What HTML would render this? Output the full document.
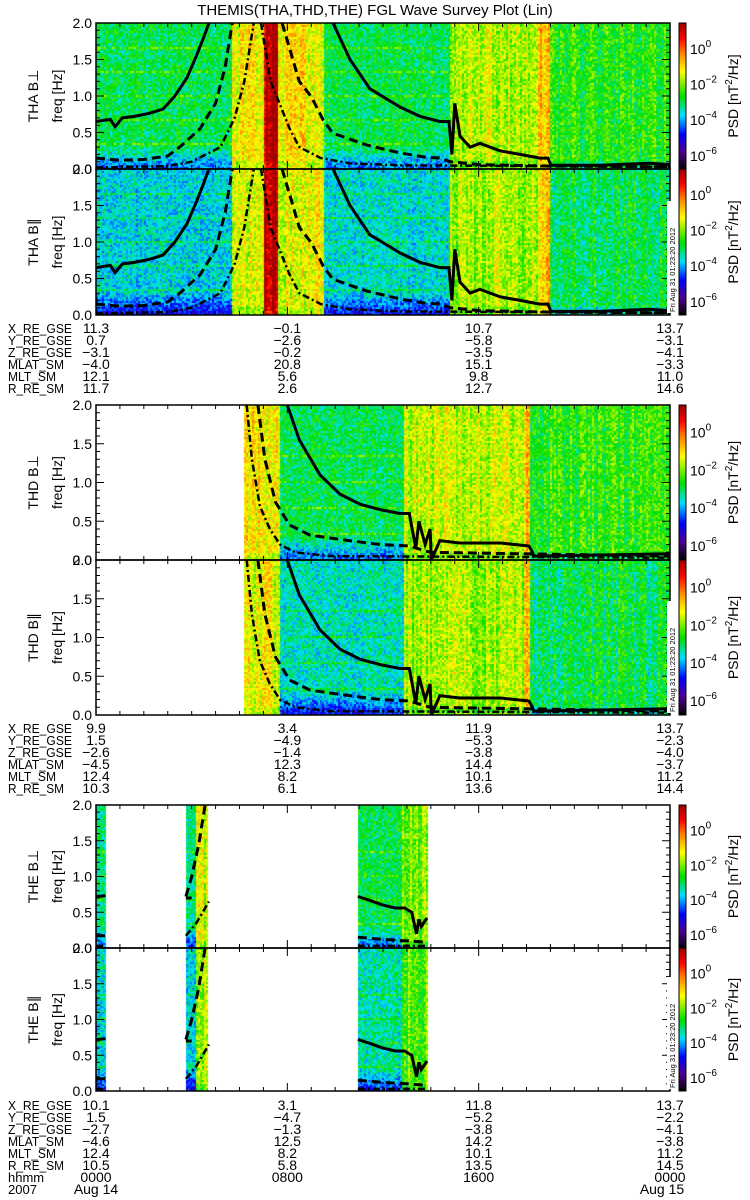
<!DOCTYPE html>
<html><head><meta charset="utf-8">
<style>
html,body{margin:0;padding:0;background:#fff;}
#wrap{position:relative;width:750px;height:1200px;overflow:hidden;font-family:"Liberation Sans",sans-serif;}
canvas,svg{position:absolute;left:0;top:0;}
</style></head>
<body>
<div id="wrap">
<canvas id="cv" width="750" height="1200"></canvas>
<svg id="sv" width="750" height="1200" xmlns="http://www.w3.org/2000/svg">
<text x="375" y="15" text-anchor="middle" font-size="15" font-family="Liberation Sans, sans-serif">THEMIS(THA,THD,THE) FGL Wave Survey Plot (Lin)</text>
</svg>
</div>
<script>
// ---- data: spectrogram segments (hours, log10 PSD) ----
const thaSegStart=[0,5.69,7.02,7.61,9.53,14.8,18.5,19.0];
const thaSegEnd=[5.69,7.02,7.61,9.53,14.8,18.5,19.0,24];
const thaPerpLevel=[-3.0,-1.2,1.3,-1.2,-3.0,-1.7,-0.8,-2.6];
const thaParLevel=[-3.7,-1.4,1.3,-1.4,-3.6,-1.8,-0.9,-3.0];
const thaQuiet=[1,0,0,0,1,0,0,0];
const thdSegStart=[6.15,7.7,12.9,17.9,18.15];
const thdSegEnd=[7.7,12.9,17.9,18.15,24];
const thdPerpLevel=[-1.2,-3.0,-1.6,-0.7,-2.5];
const thdParLevel=[-1.4,-3.5,-1.8,-0.8,-3.0];
const thdQuiet=[0,1,0,0,0];
const theSegStart=[0,3.76,4.2,10.95,12.8];
const theSegEnd=[0.4,4.2,4.72,12.8,13.84];
const thePerpLevel=[-3.2,-3.3,-1.5,-3.0,-2.0];
const theParLevel=[-3.6,-3.7,-1.7,-3.4,-2.2];
const theQuiet=[1,1,0,1,0];
// ---- data: characteristic frequency lines (hours, Hz; null = gap) ----
const thaSolidH=[0,0.6,0.8,1.1,1.6,2.2,2.8,3.3,3.8,4.2,4.5,4.72,null,9.91,10.62,11.45,12.71,13.55,14.38,14.76,14.88,15.0,15.22,15.64,16.05,16.89,17.73,18.56,18.9,19.02,21.07,23.16,24];
const thaSolidF=[0.65,0.68,0.58,0.7,0.72,0.76,0.82,1.0,1.25,1.55,1.8,2.0,null,2.0,1.5,1.1,0.85,0.72,0.65,0.65,0.2,0.9,0.45,0.3,0.35,0.25,0.2,0.15,0.15,0.05,0.05,0.08,0.06];
const thaDashH=[0,1,2,3,3.5,4.35,5.0,5.4,5.7,null,7.78,8.5,9.0,9.5,9.9,11.3,12.7,13.8,14.4,14.8,16,19,24];
const thaDashF=[0.15,0.12,0.13,0.18,0.3,0.55,0.9,1.4,2.0,null,2.0,1.2,0.99,0.67,0.49,0.33,0.22,0.16,0.15,0.1,0.06,0.04,0.03];
const thaDotH=[0,3,4,5.2,5.8,6.2,6.6,null,6.9,7.3,8.1,8.5,9.4,10.6,12.7,24];
const thaDotF=[0.02,0.04,0.1,0.3,0.7,1.2,2.0,null,2.0,1.2,0.55,0.3,0.15,0.08,0.05,0.03];
const thdSolidH=[8.0,8.5,9.36,10.2,11.04,11.87,12.7,13.1,13.37,13.5,13.76,13.97,14.02,14.38,15.2,16.05,16.9,18.1,18.25,18.3,24];
const thdSolidF=[2.0,1.55,1.1,0.85,0.72,0.65,0.6,0.6,0.15,0.5,0.2,0.4,0.0,0.25,0.22,0.22,0.22,0.18,0.1,0.05,0.08];
const thdDashH=[6.77,7.06,7.5,8.1,8.95,10.6,11.87,13.1,13.97,24];
const thdDashF=[2.0,1.3,0.75,0.45,0.32,0.25,0.2,0.18,0.1,0.05];
const thdDotH=[6.3,6.52,6.85,7.27,7.69,8.32,9.78,24];
const thdDotF=[2.0,1.3,0.7,0.4,0.2,0.1,0.05,0.03];
const theSolidH=[0,0.4,null,3.76,4.0,null,10.95,11.5,12.0,12.5,12.9,13.2,13.3,13.4,13.5,13.6,13.84];
const theSolidF=[0.72,0.73,null,0.7,0.7,null,0.72,0.66,0.6,0.56,0.56,0.5,0.35,0.2,0.4,0.3,0.42];
const theDashH=[0,0.4,null,3.76,4.0,4.3,4.56,null,10.95,12,13,13.84];
const theDashF=[0.17,0.17,null,0.72,1.0,1.45,2.0,null,0.15,0.12,0.1,0.08];
const theDotH=[0,0.4,null,3.76,4.2,4.72,null,10.95,13.84];
const theDotF=[0.03,0.03,null,0.17,0.35,0.65,null,0.03,0.03];
// ---- data: ephemeris text ----
const ephLabels=['X_RE_GSE','Y_RE_GSE','Z_RE_GSE','MLAT_SM','MLT_SM','R_RE_SM'];
const ephHours=[0,8,16,24];
const thaEph=[[11.3,0.7,-3.1,-4.0,12.1,11.7],[-0.1,-2.6,-0.2,20.8,5.6,2.6],[10.7,-5.8,-3.5,15.1,9.8,12.7],[13.7,-3.1,-4.1,-3.3,11.0,14.6]];
const thdEph=[[9.9,1.5,-2.6,-4.5,12.4,10.3],[3.4,-4.9,-1.4,12.3,8.2,6.1],[11.9,-5.3,-3.8,14.4,10.1,13.6],[13.7,-2.3,-4.0,-3.7,11.2,14.4]];
const theEph=[[10.1,1.5,-2.7,-4.6,12.4,10.5],[3.1,-4.7,-1.3,12.5,8.2,5.8],[11.8,-5.2,-3.8,14.2,10.1,13.5],[13.7,-2.2,-4.1,-3.8,11.2,14.5]];
const hhmmLabels=['0000','0800','1600','0000'];
const yTickVals=[0,0.5,1.0,1.5,2.0];
const cbTickExp=[0,-2,-4,-6];

const XL=96, XR=670, LMAX=1.4, LMIN=-6.8;
function xOf(h){return XL+h/24*(XR-XL);}
function yOf(f,p){return p.bot-f/2*(p.bot-p.top);}
function hOf(x){return (x-XL)/(XR-XL)*24;}

const probes={
 tha:{name:'THA',s:thaSegStart,e:thaSegEnd,perp:thaPerpLevel,par:thaParLevel,q:thaQuiet,lines:[[thaSolidH,thaSolidF],[thaDashH,thaDashF],[thaDotH,thaDotF]],eph:thaEph},
 thd:{name:'THD',s:thdSegStart,e:thdSegEnd,perp:thdPerpLevel,par:thdParLevel,q:thdQuiet,lines:[[thdSolidH,thdSolidF],[thdDashH,thdDashF],[thdDotH,thdDotF]],eph:thdEph},
 the:{name:'THE',s:theSegStart,e:theSegEnd,perp:thePerpLevel,par:theParLevel,q:theQuiet,lines:[[theSolidH,theSolidF],[theDashH,theDashF],[theDotH,theDotF]],eph:theEph}
};
const panels=[
 {pr:'tha',comp:'perp',top:23,bot:169},{pr:'tha',comp:'par',top:169,bot:315},
 {pr:'thd',comp:'perp',top:405,bot:560},{pr:'thd',comp:'par',top:560,bot:715},
 {pr:'the',comp:'perp',top:805,bot:948},{pr:'the',comp:'par',top:948,bot:1091}
];
const ephBase={tha:333,thd:733,the:1110};

const stops=[[0,0,0,0],[0.12,80,0,144],[0.24,0,0,255],[0.37,0,224,255],[0.5,0,224,0],[0.67,255,255,0],[0.8,255,128,0],[0.9,255,0,0],[1,160,0,0]];
function cmap(t){t=Math.max(0,Math.min(1,t));for(let i=1;i<stops.length;i++){if(t<=stops[i][0]){const a=stops[i-1],b=stops[i];const u=(t-a[0])/(b[0]-a[0]);return [a[1]+u*(b[1]-a[1]),a[2]+u*(b[2]-a[2]),a[3]+u*(b[3]-a[3])];}}return [160,0,0];}
function hash(a,b){let n=(a*374761393+b*668265263)|0;n=(n^(n>>>13))*1274126177|0;n=n^(n>>>16);return ((n>>>0)%10000)/10000;}

const cv=document.getElementById('cv'),ctx=cv.getContext('2d');
const img=ctx.createImageData(750,1200);
panels.forEach((p,pi)=>{
 const P=probes[p.pr];const lev=p.comp==='perp'?P.perp:P.par;
 for(let x=XL;x<XR;x+=2){
  const h=hOf(x+1);let si=-1;
  for(let i=0;i<P.s.length;i++){if(h>=P.s[i]&&h<P.e[i]){si=i;break;}}
  if(si<0)continue;
  const colN=(hash(x,pi+7)-0.5)*(P.q[si]?0.3:0.9);
  for(let y=p.top;y<p.bot;y+=2){
   const f=(p.bot-(y+1))/(p.bot-p.top)*2;
   let L=lev[si]+colN+(hash(x*3+1,y*5+pi)-0.5)*1.3;
   if(P.q[si]){ if(f<0.3)L-=1.4*(1-f/0.3); const hm=Math.abs(f*3-Math.round(f*3)); if(hm<0.03&&f>0.1)L+=0.6; }
   else { if(f<0.1)L-=0.4; }
   const c=cmap((L-LMIN)/(LMAX-LMIN));
   for(let dx=0;dx<2;dx++)for(let dy=0;dy<2;dy++){const yy=y+dy;if(yy>=p.bot)continue;const k=(yy*750+x+dx)*4;img.data[k]=c[0];img.data[k+1]=c[1];img.data[k+2]=c[2];img.data[k+3]=255;}
  }
 }
 for(let y=p.top;y<p.bot;y++){const t=1-(y-p.top)/(p.bot-p.top);const c=cmap(t);for(let x=679;x<686;x++){const k=(y*750+x)*4;img.data[k]=c[0];img.data[k+1]=c[1];img.data[k+2]=c[2];img.data[k+3]=255;}}
});
ctx.putImageData(img,0,0);

const NS='http://www.w3.org/2000/svg',sv=document.getElementById('sv');
function mk(tag,attrs){const e=document.createElementNS(NS,tag);for(const k in attrs)e.setAttribute(k,attrs[k]);sv.appendChild(e);return e;}
function txt(x,y,s,size,anchor){const t=mk('text',{x:x,y:y,'font-size':size,'text-anchor':anchor||'start','font-family':'Liberation Sans, sans-serif',fill:'#000'});t.textContent=s;return t;}

panels.forEach((p,pi)=>{
 const P=probes[p.pr];
 const styles=[{w:3,d:'none',n:'solid'},{w:3,d:'9 5',n:'dashed'},{w:2.5,d:'7 3 2 3',n:'dashdot'}];
 const cp=mk('clipPath',{id:'cp'+pi});
 const r=document.createElementNS(NS,'rect');r.setAttribute('x',XL);r.setAttribute('y',p.top);r.setAttribute('width',XR-XL);r.setAttribute('height',p.bot-p.top);cp.appendChild(r);
 P.lines.forEach((ln,li)=>{
  let d='',pen=false;
  for(let i=0;i<ln[0].length;i++){if(ln[0][i]===null){pen=false;continue;}d+=(pen?'L':'M')+xOf(ln[0][i]).toFixed(1)+' '+yOf(ln[1][i],p).toFixed(1);pen=true;}
  const path=mk('path',{d:d,fill:'none',stroke:'#000','stroke-width':styles[li].w,'stroke-dasharray':styles[li].d,'clip-path':'url(#cp'+pi+')'});
  
  
 });
 const fr=mk('rect',{x:XL,y:p.top,width:XR-XL,height:p.bot-p.top,fill:'none',stroke:'#000','stroke-width':1.5});
 
 
 let td='';
 for(let i=0;i<=20;i++){const f=i*0.1;const y=yOf(f,p);const len=(i%5===0)?8:4;td+='M'+XL+' '+y+'h'+len+'M'+XR+' '+y+'h'+(-len);}
 for(let h=1;h<24;h++){const x=xOf(h);const len=(h%8===0)?8:4;td+='M'+x+' '+p.bot+'v'+(-len)+'M'+x+' '+p.top+'v'+len;}
 const tk=mk('path',{d:td,stroke:'#000','stroke-width':1,fill:'none'});
 
 
 yTickVals.forEach(v=>{const t=txt(92,yOf(v,p)+5,v.toFixed(1),14,'end');
  
  });
 const cy=(p.top+p.bot)/2;
 const t1=txt(0,0,P.name+(p.comp==='perp'?' B\u22A5':' B\u2225'),14,'middle');t1.setAttribute('transform','translate(38,'+cy+') rotate(-90)');
 
 
 const t2=txt(0,0,'freq [Hz]',14,'middle');t2.setAttribute('transform','translate(62,'+cy+') rotate(-90)');
 
 
 const cb=mk('rect',{x:679,y:p.top,width:7,height:p.bot-p.top,fill:'none',stroke:'#000','stroke-width':1});
 
 
 cbTickExp.forEach(e=>{const y=p.top+(LMAX-e)/(LMAX-LMIN)*(p.bot-p.top);
  const t=txt(690,y+6,'10',14,'start');const s=document.createElementNS(NS,'tspan');s.setAttribute('dy','-7');s.setAttribute('font-size','10');s.textContent=(e<0?'\u2212'+(-e):''+e);t.appendChild(s);
  
  });
 const pl=txt(0,0,'',14,'middle');pl.setAttribute('transform','translate(738,'+cy+') rotate(-90)');
 pl.innerHTML='PSD [nT<tspan dy="-6" font-size="10">2</tspan><tspan dy="6">/Hz]</tspan>';
 
 
 if(p.comp==='par'){
  const bx=mk('rect',{x:667,y:p.bot-114,width:9,height:112,fill:'#fff'});
  
  
  const ts=txt(0,0,'Fri Aug 31 01:23:20 2012',7.5,'start');ts.setAttribute('transform','translate(675,'+(p.bot-3)+') rotate(-90)');
  
  
 }
});

function fmt(v){const s=Math.abs(v).toFixed(1);return v<0?'\u2212'+s:s;}
function label(x,y,s){const t=txt(x,y,s,13,'start');t.setAttribute('textLength',Math.min(64,s.length*8));t.setAttribute('lengthAdjust','spacingAndGlyphs');return t;}
['tha','thd','the'].forEach(pr=>{
 const base=ephBase[pr];const E=probes[pr].eph;
 ephLabels.forEach((lb,r)=>{
  const y=base+r*12;
  const t=label(8,y,lb);
  
  
  ephHours.forEach((h,c)=>{const v=txt(xOf(h),y,fmt(E[c][r]),14,'middle');
   
   });
 });
});
const hy=ephBase.the+6*12;
const hl=txt(8,hy,'hhmm',13,'start');


ephHours.forEach((h,c)=>{const t=txt(xOf(h),hy,hhmmLabels[c],14,'middle');
 
 });
const yr=txt(8,hy+12,'2007',13,'start');


const d1=txt(xOf(0),hy+12,'Aug 14',14,'middle');


const d2=txt(xOf(24)-8,hy+12,'Aug 15',14,'middle');


</script>
</body></html>
